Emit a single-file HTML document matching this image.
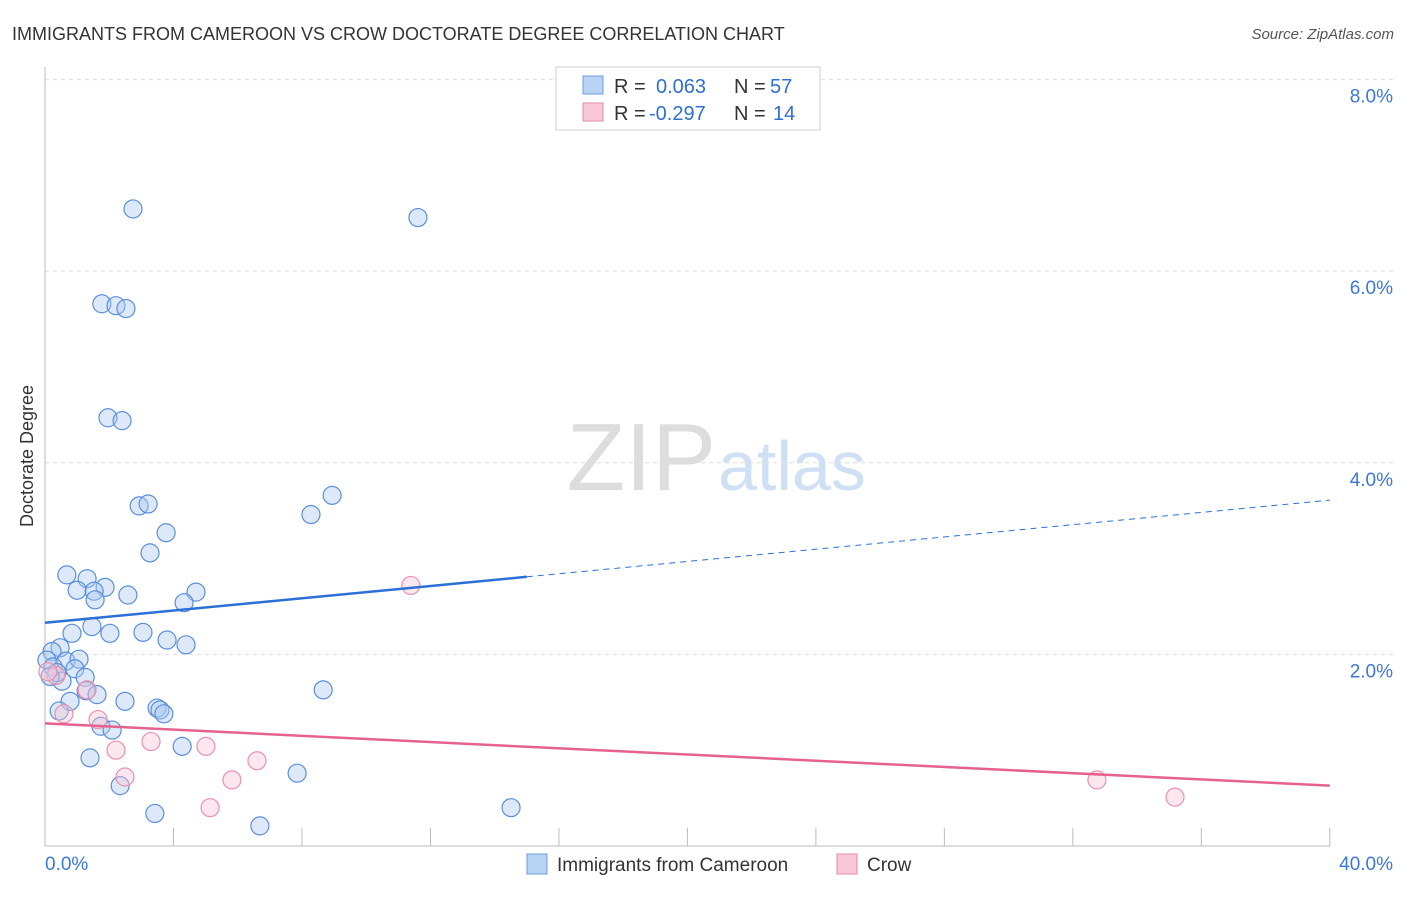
<!DOCTYPE html>
<html><head><meta charset="utf-8"><style>
body{margin:0;background:#fff;font-family:"Liberation Sans",sans-serif}
svg text{font-family:"Liberation Sans",sans-serif}
</style></head><body>
<svg id="c" width="1406" height="892">
<text x="12" y="40" font-size="18" fill="#333">IMMIGRANTS FROM CAMEROON VS CROW DOCTORATE DEGREE CORRELATION CHART</text>
<text x="1394" y="39" font-size="15" fill="#555" font-style="italic" text-anchor="end">Source: ZipAtlas.com</text>
<text x="716" y="490" font-size="96" fill="#ddd" text-anchor="end" font-family="Liberation Serif">ZIP</text>
<text x="718" y="490" font-size="70" fill="#cfe0f5">atlas</text>
<text transform="translate(33,456) rotate(-90)" font-size="18" fill="#333" text-anchor="middle">Doctorate Degree</text>
<g id="grid"></g><g id="marks"></g>
<g>
<rect x="556" y="67" width="264" height="63" fill="#fff" stroke="#ccc"/>
<rect x="583" y="76" width="20" height="18" fill="#b9d3f5" stroke="#6f9fdc"/>
<text x="614" y="93" font-size="20" fill="#333">R =</text>
<text x="656" y="93" font-size="20" fill="#2f6fcf">0.063</text>
<text x="734" y="93" font-size="20" fill="#333">N =</text>
<text x="770" y="93" font-size="20" fill="#2f6fcf">57</text>
<rect x="583" y="103" width="20" height="18" fill="#f8c8d6" stroke="#e38aa6"/>
<text x="614" y="120" font-size="20" fill="#333">R =</text>
<text x="649" y="120" font-size="20" fill="#2f6fcf">-0.297</text>
<text x="734" y="120" font-size="20" fill="#333">N =</text>
<text x="773" y="120" font-size="20" fill="#2f6fcf">14</text>
</g>
<g>
<rect x="527" y="854" width="20" height="20" fill="#b9d3f5" stroke="#6f9fdc"/>
<text x="557" y="871" font-size="19" fill="#333">Immigrants from Cameroon</text>
<rect x="837" y="854" width="20" height="20" fill="#f8c8d6" stroke="#e38aa6"/>
<text x="867" y="871" font-size="19" fill="#333">Crow</text>
</g>
</svg>
<script>
const blueX=[2.74,11.61,1.77,2.21,2.52,1.96,2.40,2.93,3.21,8.94,8.28,3.77,3.27,0.68,1.31,1.00,1.87,1.53,1.56,2.58,4.70,4.33,1.46,0.84,2.02,3.05,3.80,4.39,0.47,0.22,0.06,0.65,1.06,0.25,0.93,1.25,0.53,0.37,0.16,1.28,1.62,8.66,2.49,0.78,0.44,3.49,3.58,3.70,1.74,2.09,4.27,1.40,7.85,2.34,3.42,14.51,6.69];
const blueY=[6.65,6.56,5.66,5.64,5.61,4.47,4.44,3.55,3.57,3.66,3.46,3.27,3.06,2.83,2.79,2.67,2.70,2.66,2.57,2.62,2.65,2.54,2.29,2.22,2.22,2.23,2.15,2.10,2.07,2.03,1.94,1.93,1.95,1.87,1.85,1.76,1.72,1.81,1.77,1.62,1.58,1.63,1.51,1.51,1.41,1.44,1.42,1.38,1.25,1.21,1.04,0.92,0.76,0.63,0.34,0.40,0.21];
const pinkX=[11.39,0.34,1.31,0.59,1.65,2.21,3.30,5.01,6.60,5.82,2.49,5.14,32.75,35.18,0.09];
const pinkY=[2.72,1.78,1.63,1.38,1.32,1.00,1.09,1.04,0.89,0.69,0.72,0.40,0.69,0.51,1.82];
const blueTrend=[2.33,3.61];const blueSolidEnd=15.0;
const pinkTrend=[1.28,0.63];
const yTicks=[2,4,6,8];const yLabels=["2.0%","4.0%","6.0%","8.0%"];
const xTickVals=[4,8,12,16,20,24,28,32,36,40];
const NS="http://www.w3.org/2000/svg";
const X=v=>45+v*32.12, Y=v=>846-v*95.8;
const grid=document.getElementById('grid'),marks=document.getElementById('marks');
function mk(p,tag,a){const e=document.createElementNS(NS,tag);for(const k in a)e.setAttribute(k,a[k]);p.appendChild(e);return e;}
yTicks.forEach((t,i)=>{
 const l=mk(grid,'line',{x1:45,x2:1394,y1:Y(t),y2:Y(t),stroke:'#ddd','stroke-dasharray':'4,4'});
 
 
 const tx=mk(grid,'text',{x:1393,y:Y(t)+23,'font-size':19,fill:'#3b78d8','text-anchor':'end'});tx.textContent=yLabels[i];
 
 
});
mk(grid,'line',{x1:45,x2:45,y1:67,y2:846,stroke:'#bbb'});
mk(grid,'line',{x1:45,x2:1330,y1:846,y2:846,stroke:'#bbb'});
xTickVals.forEach(t=>{const l=mk(grid,'line',{x1:X(t),x2:X(t),y1:828,y2:846,stroke:'#bbb'});
 
 });
let t0=mk(grid,'text',{x:45,y:870,'font-size':19,fill:'#3b78d8'});t0.textContent='0.0%';


let t1=mk(grid,'text',{x:1393,y:870,'font-size':19,fill:'#3b78d8','text-anchor':'end'});t1.textContent='40.0%';


blueX.forEach((x,i)=>{const c=mk(marks,'circle',{cx:X(x),cy:Y(blueY[i]),r:9,fill:'rgba(170,200,240,0.4)',stroke:'#5b8fd9','stroke-width':1.2});
 
 });
pinkX.forEach((x,i)=>{const c=mk(marks,'circle',{cx:X(x),cy:Y(pinkY[i]),r:9,fill:'rgba(248,195,212,0.4)',stroke:'#e891ad','stroke-width':1.2});
 
 });
const by=x=>blueTrend[0]+(blueTrend[1]-blueTrend[0])*x/40;
let bl=mk(marks,'line',{x1:X(0),y1:Y(by(0)),x2:X(blueSolidEnd),y2:Y(by(blueSolidEnd)),stroke:'#2a70d6','stroke-width':2.5});


let bd=mk(marks,'line',{x1:X(blueSolidEnd),y1:Y(by(blueSolidEnd)),x2:X(40),y2:Y(by(40)),stroke:'#2a70d6','stroke-width':1,'stroke-dasharray':'6,5'});


let pl=mk(marks,'line',{x1:X(0),y1:Y(pinkTrend[0]),x2:X(40),y2:Y(pinkTrend[1]),stroke:'#e5628e','stroke-width':2.5});


</script>
</body></html>
